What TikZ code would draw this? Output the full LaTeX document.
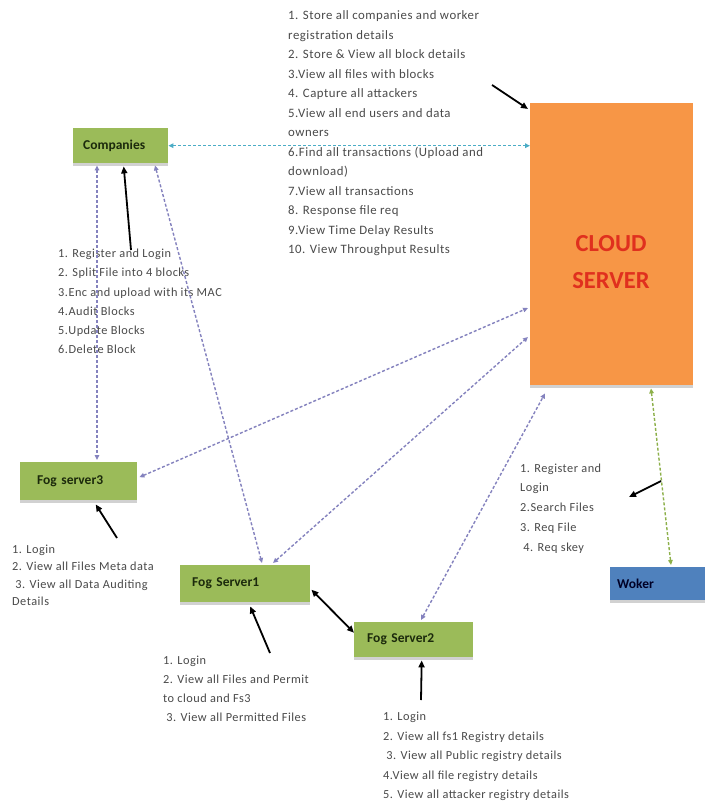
\documentclass[tikz,border=0pt]{standalone}
\usepackage{fontspec}
\setmainfont{Carlito}
\newfontfamily\listfont[LetterSpace=4]{Carlito}
\usetikzlibrary{arrows.meta,calc,shadows}
\definecolor{fgreen}{HTML}{9BBB59}
\definecolor{corange}{HTML}{F79646}
\definecolor{wblue}{HTML}{4F81BD}
\definecolor{dpurple}{HTML}{8482BE}
\definecolor{dcyan}{HTML}{4BACC6}
\definecolor{dgreen}{HTML}{8DB04A}
\definecolor{ctext}{HTML}{4A4A4A}
\definecolor{cred}{HTML}{E0301E}
\definecolor{btext}{HTML}{1C2A0C}
\begin{document}
\begin{tikzpicture}[x=1pt,y=-1pt,
  gbox/.style={fill=fgreen, anchor=north west, inner ysep=0pt, align=left,
    font=\fontsize{13.5}{15}\selectfont\bfseries, text=btext,
    drop shadow={shadow xshift=0pt, shadow yshift=-2.5pt, fill=black!18, opacity=1}},
  listtxt/.style={anchor=north west, inner sep=0pt, align=left, text=ctext},
  pdash/.style={draw=dpurple, line width=1.4pt, dash pattern=on 3pt off 2pt,
    {Triangle[length=5pt,width=4.5pt]}-{Triangle[length=5pt,width=4.5pt]}},
  ptr/.style={draw=black, line width=1.8pt, -{Triangle[length=7pt,width=6pt]}},
]
\useasboundingbox (0,0) rectangle (704,805);
\fill[white] (0,0) rectangle (704,805);

% boxes
\node[gbox, minimum width=95pt, minimum height=35pt, text width=75pt, inner xsep=10pt] (comp) at (73,128) {Companies};
\node[gbox, minimum width=117pt, minimum height=38pt, text width=83pt, inner xsep=17pt] (fog3) at (20,462) {Fog server3};
\node[gbox, minimum width=130pt, minimum height=37pt, text width=106pt, inner xsep=12pt] (fs1) at (180,565) {Fog Server1};
\node[gbox, minimum width=119pt, minimum height=35pt, text width=93pt, inner xsep=13pt] (fs2) at (354,622) {Fog Server2};
\node[gbox, fill=wblue, text=black!85!blue, minimum width=100pt, minimum height=33pt, text width=86pt, inner xsep=7pt] (wok) at (610,567) {Woker};
\node[fill=corange, anchor=north west, minimum width=163pt, minimum height=282pt, inner sep=0pt,
  drop shadow={shadow xshift=0pt, shadow yshift=-2.5pt, fill=black!18, opacity=1}] (cloud) at (530,103) {};
\node[text=cred, font=\fontsize{24.5}{37}\selectfont\bfseries, align=center] (cloudlbl) at (611,262) {CLOUD\\SERVER};

% text blocks
\node[listtxt, font=\listfont\fontsize{12.8}{19.5}\selectfont] (cloudtxt) at (288,6) {\strut 1. Store all companies and worker\\registration details\\2. Store \& View all block details\\3.View all files with blocks\\4. Capture all attackers\\5.View all end users and data\\owners\\6.Find all transactions (Upload and\\download)\\7.View all transactions\\8. Response file req\\9.View Time Delay Results\\10. View Throughput Results};
\node[listtxt, font=\listfont\fontsize{12.3}{19.2}\selectfont] (comptxt) at (58,244) {\strut 1. Register and Login\\2. Split File into 4 blocks\\3.Enc and upload with its MAC\\4.Audit Blocks\\5.Update Blocks\\6.Delete Block};
\node[listtxt, font=\listfont\fontsize{12.3}{17.4}\selectfont] (fog3txt) at (12,541) {\strut 1. Login\\2. View all Files Meta data\\\ 3. View all Data Auditing\\Details};
\node[listtxt, font=\listfont\fontsize{12.3}{19}\selectfont] (fs1txt) at (163,651) {\strut 1. Login\\2. View all Files and Permit\\to cloud and Fs3\\\ 3. View all Permitted Files};
\node[listtxt, font=\listfont\fontsize{12.3}{19.5}\selectfont] (fs2txt) at (383,707) {\strut 1. Login\\2. View all fs1 Registry details\\\ 3. View all Public registry details\\4.View all file registry details\\5. View all attacker registry details};
\node[listtxt, font=\listfont\fontsize{12.3}{19.75}\selectfont] (woktxt) at (520,458) {\strut 1. Register and\\Login\\2.Search Files\\3. Req File\\\ 4. Req skey};

% dashed connectors
\draw[pdash, draw=dcyan] (comp.east) -- (comp.east -| cloud.west);
\draw[pdash] ($(comp.south west)+(24,2)$) -- ($(fog3.north west)+(77,-2)$);
\draw[pdash] ($(comp.south west)+(82,2)$) -- ($(fs1.north west)+(82,-2)$);
\draw[pdash] ($(fog3.east)+(2,-4)$) -- ($(cloud.north west)+(-2,205)$);
\draw[pdash] ($(fs1.north west)+(93,-2)$) -- ($(cloud.north west)+(-2,234)$);
\draw[pdash] ($(fs2.north west)+(67,-2)$) -- ($(cloud.south west)+(15,8)$);
\draw[pdash, draw=dgreen] ($(cloud.south west)+(121,3)$) -- ($(wok.north west)+(61,-2)$);

% solid link
\draw[draw=black, line width=1.8pt, {Triangle[length=7pt,width=6pt]}-{Triangle[length=7pt,width=6pt]}] ($(fs1.east)+(1,6)$) -- ($(fs2.west)+(0,-7)$);

% pointers
\coordinate (pc) at (492,85);
\coordinate (pcomp) at (131,250);
\coordinate (pfog3) at (117,538);
\coordinate (pfs1) at (270,653);
\coordinate (pfs2) at (421,700);
\coordinate (pwa) at (661,481);
\coordinate (pwb) at (629,497);
\draw[ptr] (pc) -- ($(cloud.north west)+(-2,6)$);
\draw[ptr] (pcomp) -- ($(comp.south)+(3,3)$);
\draw[ptr] (pfog3) -- ($(fog3.south)+(17,4)$);
\draw[ptr] (pfs1) -- ($(fs1.south)+(5,4)$);
\draw[ptr] (pfs2) -- ($(fs2.south)+(8,3)$);
\draw[ptr] (pwa) -- (pwb);
\end{tikzpicture}
\end{document}
